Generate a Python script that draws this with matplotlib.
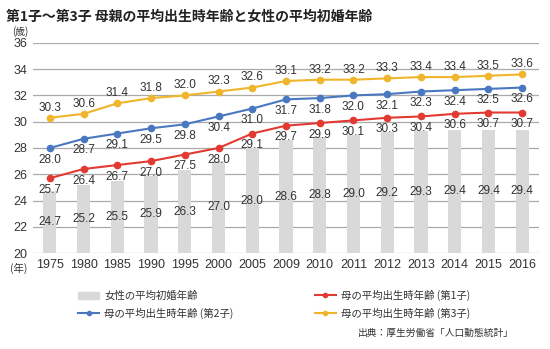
import matplotlib
matplotlib.use("Agg")
import matplotlib.pyplot as plt
from matplotlib.lines import Line2D
from matplotlib.patches import Patch
import numpy as np

plt.rcParams['font.family'] = ['Noto Sans CJK JP', 'DejaVu Sans']

years = ["1975", "1980", "1985", "1990", "1995", "2000", "2005", "2009",
         "2010", "2011", "2012", "2013", "2014", "2015", "2016"]
marriage = [24.7, 25.2, 25.5, 25.9, 26.3, 27.0, 28.0, 28.6, 28.8, 29.0, 29.2, 29.3, 29.4, 29.4, 29.4]
first = [25.7, 26.4, 26.7, 27.0, 27.5, 28.0, 29.1, 29.7, 29.9, 30.1, 30.3, 30.4, 30.6, 30.7, 30.7]
second = [28.0, 28.7, 29.1, 29.5, 29.8, 30.4, 31.0, 31.7, 31.8, 32.0, 32.1, 32.3, 32.4, 32.5, 32.6]
third = [30.3, 30.6, 31.4, 31.8, 32.0, 32.3, 32.6, 33.1, 33.2, 33.2, 33.3, 33.4, 33.4, 33.5, 33.6]

title = "第1子～第3子 母親の平均出生時年齢と女性の平均初婚年齢"
lab_bar = "女性の平均初婚年齢"
lab_1 = "母の平均出生時年齢 (第1子)"
lab_2 = "母の平均出生時年齢 (第2子)"
lab_3 = "母の平均出生時年齢 (第3子)"
source = "出典：厚生労働省「人口動態統計」"

c_bar = "#d9d9d9"
c_red = "#e23a32"
c_blue = "#4a78c0"
c_yel = "#f0b52a"
c_txt = "#333333"
numfont = 'Liberation Sans'

fig = plt.figure(figsize=(5.5, 3.49), dpi=100)
ax = fig.add_axes([0.06, 0.275, 0.92, 0.602])
x = np.arange(len(years))

ax.bar(x, [m - 20 for m in marriage], bottom=20, width=0.39, color=c_bar, zorder=2)
ax.plot(x, first, color=c_red, lw=1.5, marker='o', ms=4.5, zorder=4)
ax.plot(x, second, color=c_blue, lw=1.5, marker='o', ms=4.5, zorder=4)
ax.plot(x, third, color=c_yel, lw=1.5, marker='o', ms=4.5, zorder=4)

fs = 8.5
for i, v in enumerate(marriage):
    yl = min(max((20 + v) / 2, 22.4), 24.9)
    ax.text(i, yl, f"{v:.1f}", ha='center', va='center', fontsize=fs, color=c_txt, zorder=5,
            family=numfont)
for i, v in enumerate(first):
    ax.annotate(f"{v:.1f}", (i, v), xytext=(0, -4), textcoords='offset points',
                ha='center', va='top', fontsize=fs, color=c_txt, zorder=5, family=numfont)
for i, v in enumerate(second):
    ax.annotate(f"{v:.1f}", (i, v), xytext=(0, -4), textcoords='offset points',
                ha='center', va='top', fontsize=fs, color=c_txt, zorder=5, family=numfont)
for i, v in enumerate(third):
    ax.annotate(f"{v:.1f}", (i, v), xytext=(0, 3), textcoords='offset points',
                ha='center', va='bottom', fontsize=fs, color=c_txt, zorder=5, family=numfont)

ax.set_xlim(-0.5, len(years) - 0.5)
ax.set_ylim(20, 36)
ax.set_yticks(range(20, 37, 2))
ax.set_xticks(x)
ax.set_xticklabels(years)
ax.grid(axis='y', color='#aaaaaa', lw=0.9, zorder=1)
ax.set_axisbelow(True)
for s in ax.spines.values():
    s.set_visible(False)
ax.tick_params(length=0, labelsize=9, colors=c_txt, pad=4)
for t in ax.get_xticklabels() + ax.get_yticklabels():
    t.set_family(numfont)

fig.text(0.01, 0.952, title, fontsize=10, fontweight='bold', color='#222222', va='center')
fig.text(0.022, 0.91, "(歳)", fontsize=7, color=c_txt, va='center')
fig.text(0.018, 0.232, "(年)", fontsize=7.5, color=c_txt, va='center')

handles = [Patch(color=c_bar),
           Line2D([], [], color=c_blue, lw=1.5, marker='o', ms=3),
           Line2D([], [], color=c_red, lw=1.5, marker='o', ms=3),
           Line2D([], [], color=c_yel, lw=1.5, marker='o', ms=3)]
labels = [lab_bar, lab_2, lab_1, lab_3]
fig.legend(handles, labels, ncol=2, loc='center left', bbox_to_anchor=(0.125, 0.128),
           frameon=False, fontsize=7.5, handlelength=2.0, handleheight=0.7,
           columnspacing=7.8, labelspacing=0.6, handletextpad=0.5, labelcolor=c_txt)
fig.text(0.935, 0.045, source, fontsize=7, color=c_txt, ha='right', va='center')

fig.savefig("out.png", dpi=100)
